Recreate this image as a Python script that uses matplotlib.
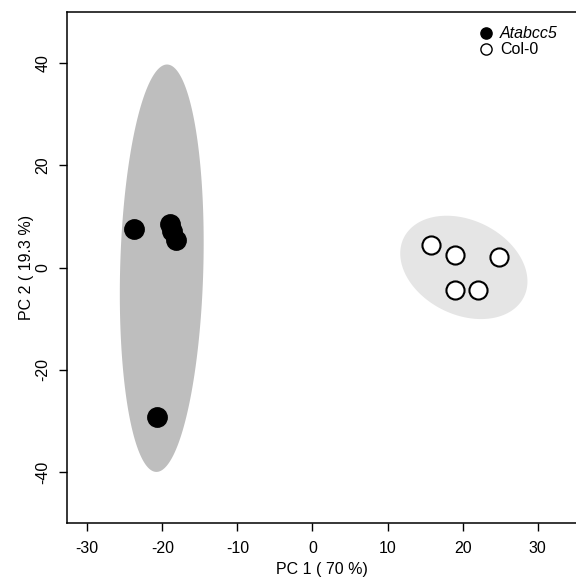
import numpy as np
import matplotlib
matplotlib.use("Agg")
import matplotlib.pyplot as plt
from matplotlib.patches import Polygon

plt.rcParams['font.family'] = ['Liberation Sans', 'DejaVu Sans']

# PCA scores
mutant_pc1 = [-23.8, -19.0, -18.7, -18.2, -20.7]
mutant_pc2 = [7.6, 8.5, 7.1, 5.3, -29.2]
wt_pc1 = [15.8, 19.0, 24.9, 19.0, 22.1]
wt_pc2 = [4.4, 2.4, 2.1, -4.4, -4.4]

group_labels = ["Atabcc5", "Col-0"]
xticks = [-30, -20, -10, 0, 10, 20, 30]
yticks = [-40, -20, 0, 20, 40]
chi2_95 = 5.991

fig = plt.figure(figsize=(5.76, 5.79), dpi=100)
ax = fig.add_axes([67/576, 1 - 523/579, 1 - 67/576, (523 - 12)/579])


def ellipse_points(x, y, scale):
    x = np.asarray(x); y = np.asarray(y)
    c = np.array([x.mean(), y.mean()])
    cov = np.cov(np.vstack([x, y]))
    L = np.linalg.cholesky(cov * scale)
    t = np.linspace(0, 2 * np.pi, 300)
    circ = np.vstack([np.cos(t), np.sin(t)])
    return (L @ circ).T + c


ax.add_patch(Polygon(ellipse_points(mutant_pc1, mutant_pc2, chi2_95), closed=True,
                     facecolor='#bebebe', edgecolor='none', zorder=1))
ax.add_patch(Polygon(ellipse_points(wt_pc1, wt_pc2, chi2_95), closed=True,
                     facecolor='#e5e5e5', edgecolor='none', zorder=1))

ax.scatter(mutant_pc1, mutant_pc2, s=190, c='black', edgecolors='black', linewidths=1.2, zorder=3)
ax.scatter(wt_pc1, wt_pc2, s=170, c='white', edgecolors='black', linewidths=1.5, zorder=3)

ax.set_xlim(-32.7, 35.1)
ax.set_ylim(-50, 50)
ax.set_xticks(xticks)
ax.set_yticks(yticks)
ax.set_xticklabels([str(v) for v in xticks])
ax.set_yticklabels([str(v) for v in yticks], rotation=90, va='center')
ax.tick_params(axis='both', length=6, width=1, labelsize=11.5, color='black')
ax.tick_params(axis='x', pad=7)
ax.tick_params(axis='y', pad=6)
for s in ['left', 'bottom', 'top']:
    ax.spines[s].set_linewidth(1.1)
ax.spines['right'].set_visible(False)

ax.set_xlabel('PC 1 ( 70 %)', fontsize=11.5, labelpad=4)
ax.set_ylabel('PC 2 ( 19.3 %)', fontsize=11.5, labelpad=1)

# legend (no frame, top right)
lx, ly1, ly2 = 23.1, 45.8, 42.7
ax.scatter([lx], [ly1], s=65, c='black', zorder=5, clip_on=False)
ax.scatter([lx], [ly2], s=65, c='white', edgecolors='black', linewidths=1.0, zorder=5, clip_on=False)
ax.text(lx + 1.9, ly1, group_labels[0], fontsize=11.5, style='italic', va='center', ha='left')
ax.text(lx + 1.9, ly2, group_labels[1], fontsize=11.5, va='center', ha='left')

fig.savefig('out.png', dpi=100)
